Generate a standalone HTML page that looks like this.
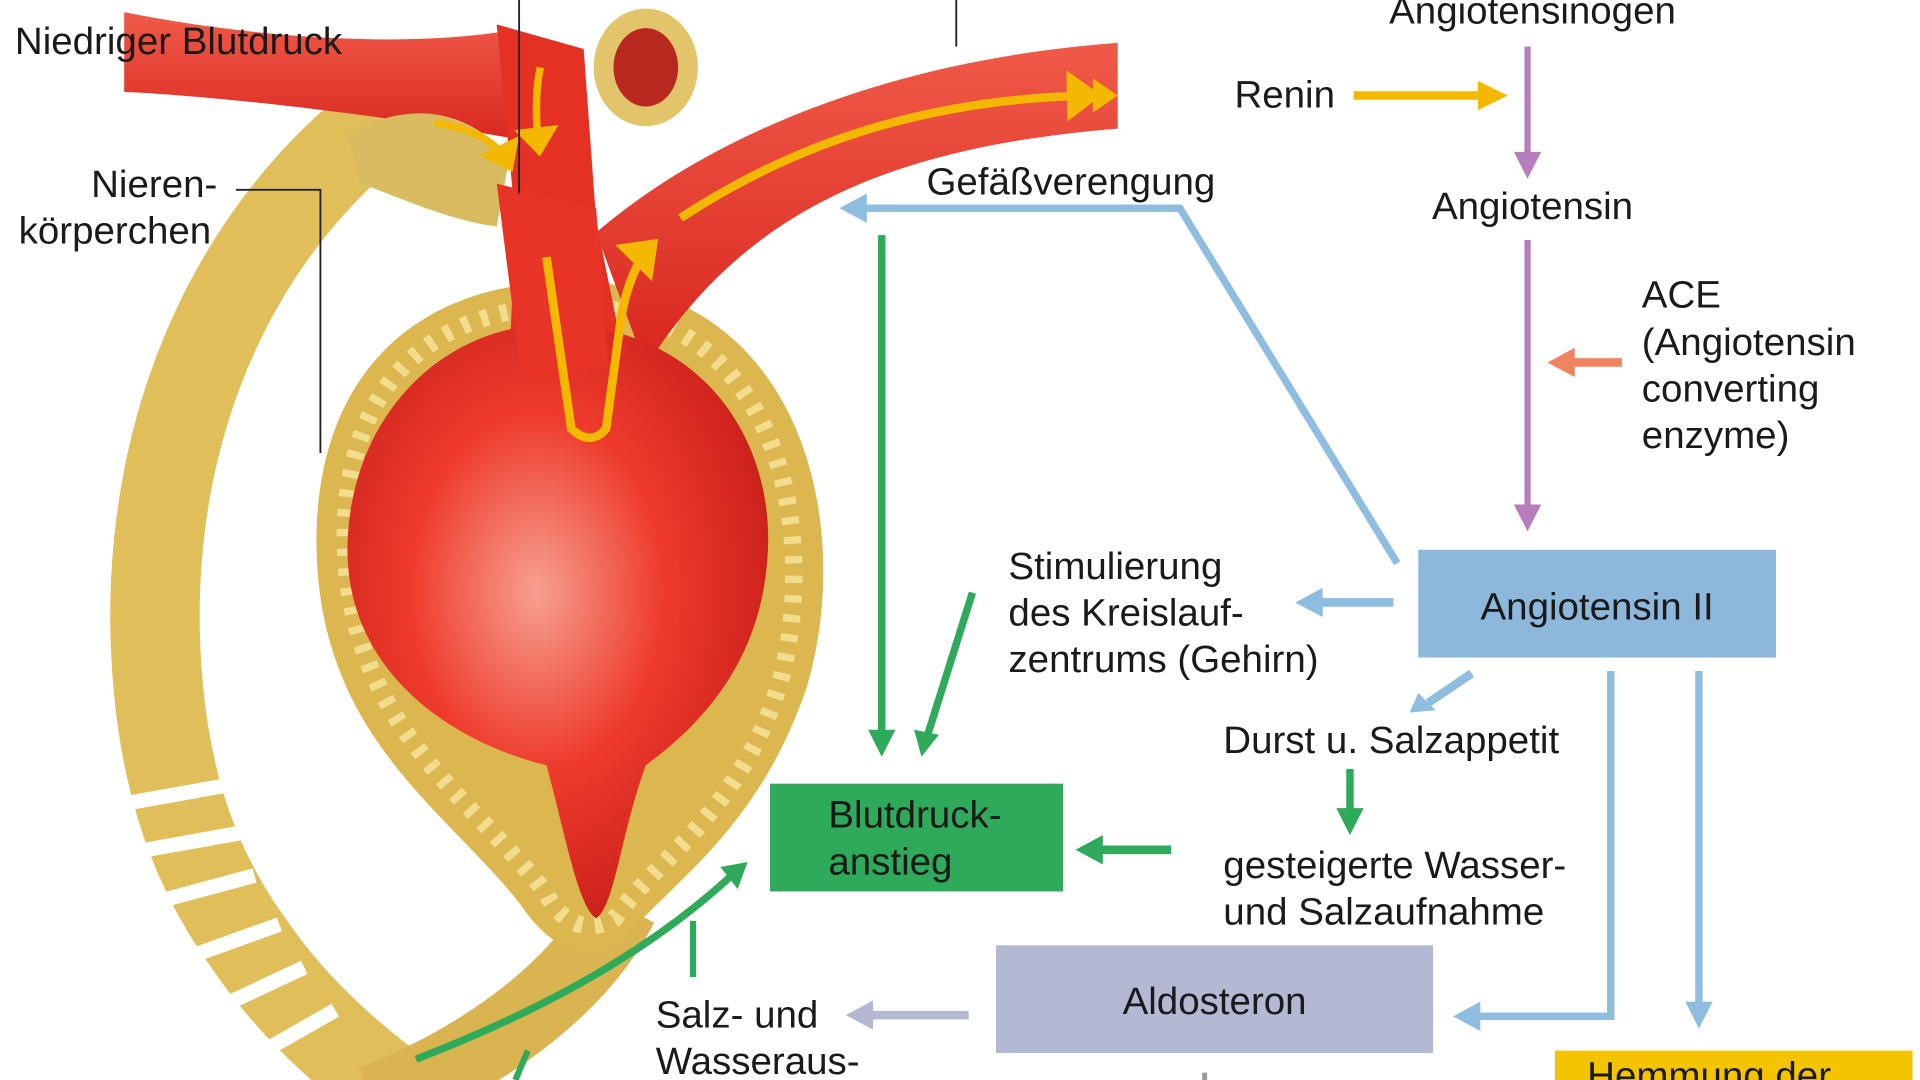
<!DOCTYPE html>
<html><head><meta charset="utf-8"><style>
html,body{margin:0;padding:0;background:#fff;width:1920px;height:1080px;overflow:hidden}
svg{display:block}
text{font-family:"Liberation Sans",sans-serif;font-size:31px;fill:#1a1a1a}
</style></head><body>
<svg width="1920" height="1080" viewBox="0 0 1546 882" preserveAspectRatio="none">
<defs>
<radialGradient id="gl" cx="0.45" cy="0.45" r="0.6"><stop offset="0" stop-color="#f7a090"/><stop offset="0.5" stop-color="#ee3b2c"/><stop offset="1" stop-color="#c81e1a"/></radialGradient>
<linearGradient id="ves" x1="0" y1="0" x2="0" y2="1"><stop offset="0" stop-color="#f05a48"/><stop offset="1" stop-color="#d8261e"/></linearGradient>
<marker id="aY" markerWidth="6" markerHeight="6" refX="3" refY="3" orient="auto" markerUnits="strokeWidth"><path d="M0,0 L4,3 L0,6 z" fill="#f5b800"/></marker>
</defs>
<path d="M310,95 C200,180 120,330 125,520 C128,620 150,700 200,770 C240,830 290,870 330,900" fill="none" stroke="#e0be5a" stroke-width="72"/>
<g stroke="#fff" stroke-width="12">
<line x1="80" y1="660" x2="190" y2="640"/><line x1="85" y1="700" x2="195" y2="680"/><line x1="95" y1="745" x2="205" y2="715"/><line x1="115" y1="795" x2="225" y2="755"/><line x1="140" y1="840" x2="245" y2="790"/><line x1="175" y1="880" x2="270" y2="825"/>
</g>
<path d="M300,900 C400,860 470,800 500,740" fill="none" stroke="#d9b450" stroke-width="60"/>
<path d="M460,230 C640,230 690,420 650,560 C610,680 540,720 500,770 C470,790 440,770 420,740 C360,660 250,600 255,430 C260,300 340,230 460,230 Z" fill="#dcb64f"/>
<path d="M460,250 C620,250 660,420 630,550 C600,660 530,700 495,750 C470,765 450,750 440,730 C380,650 275,590 278,430 C282,310 350,250 460,250 Z" fill="none" stroke="#f2dc8e" stroke-width="14" stroke-dasharray="6 10"/>
<path d="M100,10 C200,30 320,40 410,25 L470,60 L450,120 C350,100 200,80 100,75 Z" fill="url(#ves)"/>
<path d="M400,20 L470,40 L480,180 L500,280 L410,300 L415,180 Z" fill="#e53024"/>
<path d="M480,190 C560,120 700,50 900,35 L900,105 C720,120 600,170 520,300 Z" fill="url(#ves)"/>
<ellipse cx="520" cy="55" rx="42" ry="48" fill="#e2c46a"/><ellipse cx="520" cy="55" rx="26" ry="32" fill="#b8281e"/>
<path d="M280,110 C330,80 380,90 410,130 L400,185 C360,180 320,160 290,150 Z" fill="#d9bc62"/>
<path d="M445,265 C565,265 625,360 618,455 C612,545 560,595 520,625 C500,680 495,740 480,750 C465,740 455,680 440,625 C360,605 275,545 280,440 C285,335 360,265 445,265 Z" fill="url(#gl)"/>
<path d="M400,150 L480,170 L490,300 L420,310 Z" fill="#e83427"/>
<path d="M440,210 L460,350 C470,360 480,360 488,350 L500,260 C505,230 515,210 525,200" fill="none" stroke="#f5b800" stroke-width="7" marker-end="url(#aY)"/>
<path d="M548,178 C650,110 760,80 880,78" fill="none" stroke="#f5b800" stroke-width="7" marker-end="url(#aY)"/>
<path d="M350,100 C380,105 400,115 410,135" fill="none" stroke="#f5b800" stroke-width="6" marker-end="url(#aY)"/>
<path d="M435,55 C430,80 432,105 434,122" fill="none" stroke="#f5b800" stroke-width="6" marker-end="url(#aY)"/>
<g stroke="#222" stroke-width="1.5" fill="none">
<path d="M190,155 H258 V370"/><line x1="418" y1="0" x2="418" y2="158"/><line x1="770" y1="0" x2="770" y2="38"/>
</g>
<text x="12" y="44">Niedriger Blutdruck</text>
<text x="175" y="161" text-anchor="end">Nieren-</text>
<text x="15" y="199">körperchen</text>
<text x="1234" y="19" text-anchor="middle">Angiotensinogen</text>
<text x="994" y="88">Renin</text>
<text x="1234" y="179" text-anchor="middle">Angiotensin</text>
<text x="1322" y="251">ACE</text>
<text x="1322" y="290">(Angiotensin</text>
<text x="1322" y="328">converting</text>
<text x="1322" y="366">enzyme)</text>
<text x="746" y="159">Gefäßverengung</text>
<text x="812" y="473">Stimulierung</text>
<text x="812" y="511">des Kreislauf-</text>
<text x="812" y="549">zentrums (Gehirn)</text>
<text x="985" y="615">Durst u. Salzappetit</text>
<text x="985" y="717">gesteigerte Wasser-</text>
<text x="985" y="755">und Salzaufnahme</text>
<text x="528" y="839">Salz- und</text>
<text x="528" y="877">Wasseraus-</text>
<g fill="none" stroke-width="7">
<line x1="1090" y1="78" x2="1195" y2="78" stroke="#f5b800"/>
<line x1="1230" y1="38" x2="1230" y2="128" stroke="#b77dbd" stroke-width="5"/>
<line x1="1230" y1="196" x2="1230" y2="415" stroke="#b77dbd" stroke-width="5"/>
<line x1="1306" y1="296" x2="1265" y2="296" stroke="#ef8560"/>
<polyline points="1125,460 950,170 695,170" stroke="#8fbde0" stroke-width="6"/>
<line x1="710" y1="192" x2="710" y2="598" stroke="#2eaa5a" stroke-width="6"/>
<line x1="783" y1="484" x2="747" y2="600" stroke="#2eaa5a" stroke-width="6"/>
<line x1="1122" y1="492" x2="1062" y2="492" stroke="#8fbde0"/>
<line x1="1185" y1="550" x2="1150" y2="574" stroke="#8fbde0"/>
<line x1="1087" y1="628" x2="1087" y2="664" stroke="#2eaa5a" stroke-width="6"/>
<line x1="943" y1="694" x2="885" y2="694" stroke="#2eaa5a"/>
<polyline points="1297,548 1297,830 1190,830" stroke="#8fbde0" stroke-width="6"/>
<line x1="1368" y1="548" x2="1368" y2="820" stroke="#8fbde0" stroke-width="6"/>
<line x1="780" y1="829" x2="700" y2="829" stroke="#b3b8d3"/>
<line x1="558" y1="752" x2="558" y2="798" stroke="#2eaa5a" stroke-width="5"/>
<path d="M335,865 C450,820 530,770 588,716" stroke="#2eaa5a" stroke-width="6"/>
<line x1="425" y1="858" x2="415" y2="882" stroke="#2eaa5a" stroke-width="5"/>
<line x1="970" y1="876" x2="970" y2="882" stroke="#999" stroke-width="4"/>
</g>
<g>
<path d="M1190,66 L1214,78 L1190,90 z" fill="#f5b800"/>
<path d="M880,64 L900,78 L880,92 z" fill="#f5b800"/>
<path d="M1219,124 L1230,146 L1241,124 z" fill="#b77dbd"/>
<path d="M1219,412 L1230,434 L1241,412 z" fill="#b77dbd"/>
<path d="M1268,284 L1246,296 L1268,308 z" fill="#ef8560"/>
<path d="M698,158 L676,170 L698,182 z" fill="#8fbde0"/>
<path d="M699,596 L710,618 L721,596 z" fill="#2eaa5a"/>
<path d="M736,596 L742,618 L756,600 z" fill="#2eaa5a"/>
<path d="M1065,480 L1043,492 L1065,504 z" fill="#8fbde0"/>
<path d="M1142,566 L1135,582 L1156,580 z" fill="#8fbde0"/>
<path d="M1076,660 L1087,682 L1098,660 z" fill="#2eaa5a"/>
<path d="M888,682 L866,694 L888,706 z" fill="#2eaa5a"/>
<path d="M1192,818 L1170,830 L1192,842 z" fill="#8fbde0"/>
<path d="M1357,818 L1368,840 L1379,818 z" fill="#8fbde0"/>
<path d="M703,817 L681,829 L703,841 z" fill="#b3b8d3"/>
<path d="M580,708 L602,704 L594,726 z" fill="#2eaa5a"/>
</g>
<rect x="1142" y="449" width="288" height="88" fill="#8db8dc"/>
<text x="1286" y="506" text-anchor="middle">Angiotensin II</text>
<rect x="620" y="640" width="236" height="88" fill="#2eaa5a"/>
<text x="667" y="676">Blutdruck-</text>
<text x="667" y="714">anstieg</text>
<rect x="802" y="772" width="352" height="88" fill="#b3b8d3"/>
<text x="978" y="828" text-anchor="middle">Aldosteron</text>
<rect x="1252" y="858" width="288" height="30" fill="#f5c400"/>
<text x="1278" y="889">Hemmung der</text>
</svg>
</body></html>
